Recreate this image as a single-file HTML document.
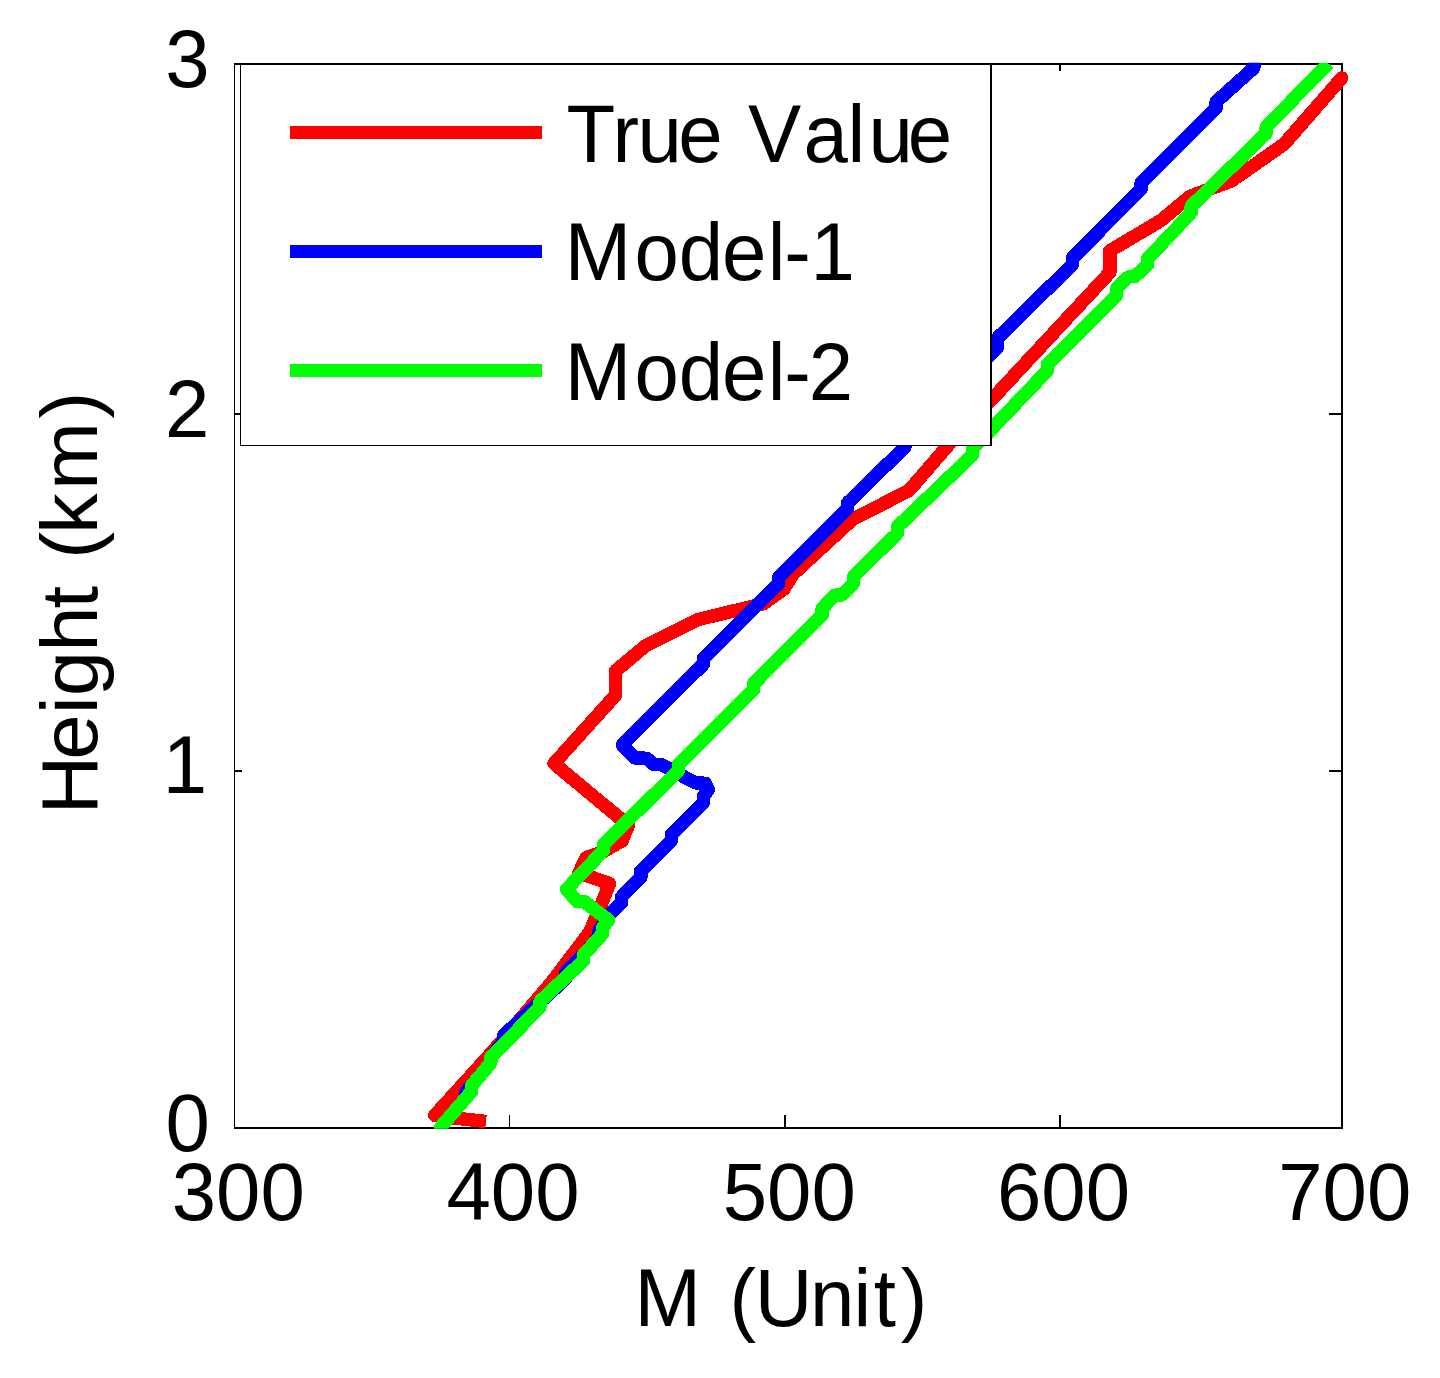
<!DOCTYPE html>
<html><head><meta charset="utf-8"><title>M profile</title>
<style>
html,body{margin:0;padding:0;background:#fff;}
svg{display:block;}
text{font-family:"Liberation Sans",Arial,Helvetica,sans-serif;font-size:81px;fill:#000;font-kerning:none;}
</style></head><body>
<svg width="1440" height="1378" viewBox="0 0 1440 1378">
<rect x="0" y="0" width="1440" height="1378" fill="#fff"/>
<defs><clipPath id="ax"><rect x="225" y="62.8" width="1200" height="1066"/></clipPath></defs>
<!-- axes box -->
<g shape-rendering="crispEdges" stroke="#000" fill="none">
<line x1="233.9" y1="64" x2="1342.7" y2="64" stroke-width="2"/>
<line x1="233.9" y1="1127.8" x2="1342.7" y2="1127.8" stroke-width="2"/>
<line x1="234.6" y1="63" x2="234.6" y2="1128.8" stroke-width="1.5"/>
<line x1="1341.8" y1="63" x2="1341.8" y2="1128.8" stroke-width="1.5"/>
<!-- ticks bottom -->
<line x1="509.5" y1="1115" x2="509.5" y2="1127" stroke-width="1.6"/>
<line x1="785" y1="1115" x2="785" y2="1127" stroke-width="2"/>
<line x1="1060" y1="1115" x2="1060" y2="1127" stroke-width="2"/>
<!-- ticks top -->
<line x1="1060" y1="64" x2="1060" y2="70.5" stroke-width="2"/>
<!-- ticks left -->
<line x1="234" y1="414" x2="242" y2="414" stroke-width="2"/>
<line x1="234" y1="771" x2="242" y2="771" stroke-width="2"/>
<!-- ticks right -->
<line x1="1328.8" y1="414" x2="1342" y2="414" stroke-width="2"/>
<line x1="1328.8" y1="771" x2="1342" y2="771" stroke-width="2"/>
</g>
<!-- curves -->
<g clip-path="url(#ax)" fill="none" stroke-width="13.5" stroke-linejoin="round" shape-rendering="crispEdges">
<polyline stroke="#ff0000" points="486.0,1121.5 453.0,1117.8 434.8,1115.3 492.5,1051.7 550.8,983.3 590.0,931.7 596.0,916.7 601.4,904.0 609.6,883.6 579.0,872.8 586.3,857.6 602.9,851.8 622.0,840.8 628.4,825.3 554.0,763.5 615.7,695.0 615.7,670.8 646.2,645.3 697.5,619.7 763.3,603.7 783.7,589.2 793.0,574.2 852.7,519.3 909.0,490.5 948.2,445.3 991.2,400.0 1109.8,272.5 1109.8,250.8 1160.7,220.7 1190.0,196.3 1231.3,181.0 1284.0,144.2 1341.8,78.0"/>
<circle cx="1341.8" cy="78" r="6.75" fill="#ff0000" stroke="none"/>
<polyline stroke="#0000ff" points="440.8,1130.0 440.8,1127.0 465.5,1098.5 465.5,1092.5 490.8,1063.0 490.8,1057.2 503.9,1041.0 503.9,1035.0 565.5,979.0 565.5,973.0 583.7,954.7 598.5,937.5 598.5,931.5 610.8,913.3 621.7,902.5 621.7,896.7 640.8,877.5 640.8,870.8 671.7,840.0 671.7,834.2 703.3,802.5 703.3,796.7 708.3,789.5 705.0,783.3 696.7,783.0 690.0,780.0 661.7,764.7 653.3,764.2 646.7,758.3 635.0,758.0 622.3,745.0 703.3,664.2 703.3,658.3 778.3,584.2 778.3,578.0 847.5,508.8 847.5,503.0 905.0,447.0 905.0,441.0 997.5,347.2 997.5,338.0 1072.5,264.5 1072.5,258.0 1141.2,189.2 1141.2,182.8 1216.2,107.8 1216.2,101.7 1253.8,68.0 1253.8,55.0"/>
<polyline stroke="#00ff00" points="440.8,1130.0 440.8,1127.0 471.7,1091.3 471.7,1085.5 490.8,1063.0 490.8,1057.2 540.0,1007.2 540.0,1001.3 583.7,960.5 583.7,954.7 602.5,933.8 602.5,928.0 608.5,920.0 584.3,901.7 577.5,901.7 566.5,889.3 603.3,850.8 603.3,845.0 678.7,770.0 678.7,764.2 753.3,690.0 753.3,684.2 822.2,615.0 822.2,608.7 834.2,595.3 841.7,595.0 853.3,583.3 853.3,577.0 897.3,533.3 897.3,527.0 972.5,455.0 972.5,449.0 1047.5,370.5 1047.5,364.2 1116.3,295.5 1116.3,289.2 1128.3,277.0 1135.0,276.3 1147.3,265.0 1147.3,259.2 1191.2,212.5 1191.2,206.2 1266.2,133.3 1266.2,127.0 1328.3,63.3"/>
</g>
<!-- legend -->
<g shape-rendering="crispEdges">
<rect x="240.7" y="64" width="750.4" height="381.2" fill="#fff" stroke="#000" stroke-width="1.3"/>
<rect x="290" y="126" width="252" height="13" fill="#ff0000"/>
<rect x="290" y="245" width="252" height="13" fill="#0000ff"/>
<rect x="290" y="364" width="252" height="13" fill="#00ff00"/>
</g>
<text text-anchor="start" transform="translate(566.4,161.6) scale(0.985,1.006)" dx="0.10 -2.64 -1.83 -3.55 0.00 3.15 2.34 -0.41 3.45 -5.18">True Value</text>
<text text-anchor="start" transform="translate(565.2,280.4) scale(0.985,1.006)" dx="-0.41 3.25 -0.20 -1.02 1.32 -1.12 -0.30">Model-1</text>
<text text-anchor="start" transform="translate(565.2,399.6) scale(0.985,1.006)" dx="-0.41 3.25 -0.20 -1.02 1.32 -1.12 -2.13">Model-2</text>
<!-- tick labels -->
<text text-anchor="end" transform="translate(209.6,86.5) scale(0.985,1.006)">3</text>
<text text-anchor="end" transform="translate(209.3,437.3) scale(0.985,1.006)">2</text>
<text text-anchor="end" transform="translate(207,793.4) scale(0.985,1.006)">1</text>
<text text-anchor="end" transform="translate(209.8,1150.8) scale(0.985,1.006)">0</text>
<text text-anchor="middle" transform="translate(238.3,1220) scale(0.985,1.006)">300</text>
<text text-anchor="middle" transform="translate(513,1220) scale(0.985,1.006)">400</text>
<text text-anchor="middle" transform="translate(789.2,1220) scale(0.985,1.006)">500</text>
<text text-anchor="middle" transform="translate(1063.5,1220) scale(0.985,1.006)">600</text>
<text text-anchor="middle" transform="translate(1344.8,1220) scale(0.985,1.006)">700</text>
<text text-anchor="start" transform="translate(638.5,1325.7) scale(0.985,1.006)" dx="-3.96 0.00 6.40 -1.32 -2.54 -0.71 2.54 4.77">M (Unit)</text>
<text transform="translate(97,813.5) rotate(-90) scale(1.006,0.985)" dx="-0.89 -4.08 0.10 -0.10 -0.89 -1.89 0.00 4.08 -2.09 3.18 3.28">Height (km)</text>
</svg>
</body></html>
